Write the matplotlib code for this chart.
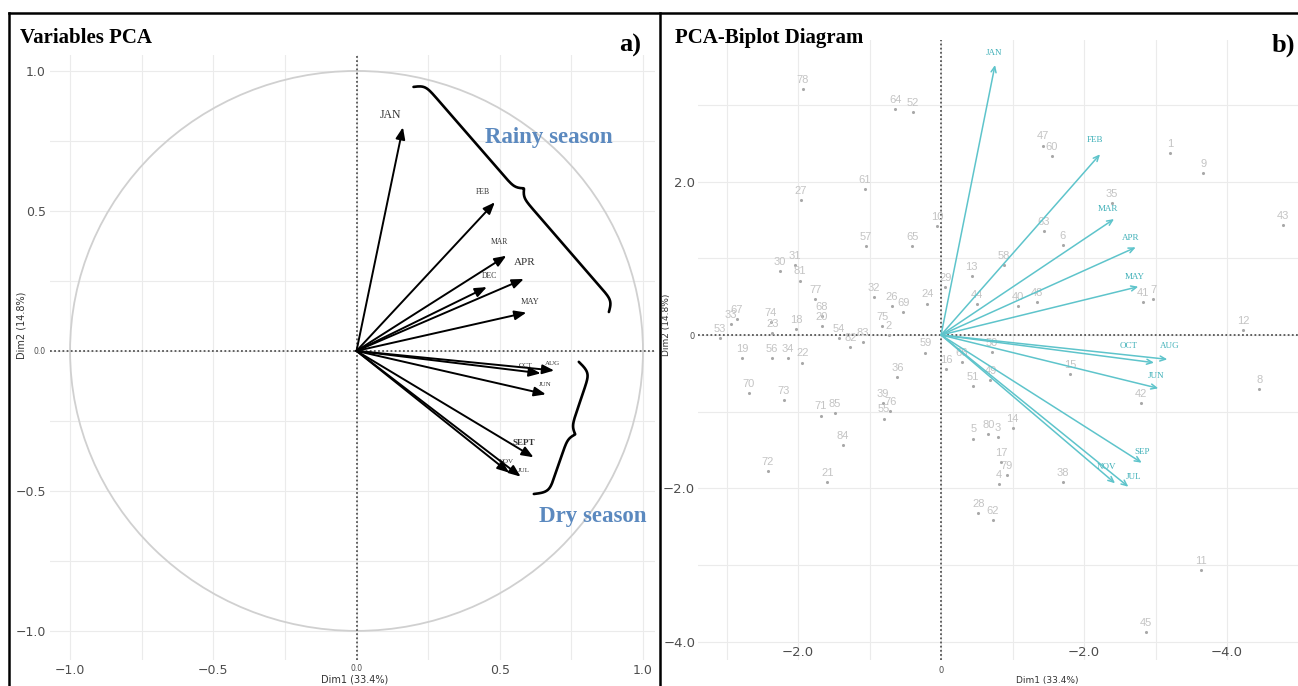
import numpy as np
import matplotlib
matplotlib.use('Agg')
import matplotlib.pyplot as plt
from matplotlib import font_manager
from matplotlib.lines import Line2D
from matplotlib.patches import Circle

# ---- data ----
# a) variables PCA: loadings of the monthly variables
months_a = ['JAN', 'FEB', 'MAR', 'APR', 'DEC', 'MAY', 'OCT', 'AUG', 'JUN', 'SEPT', 'NOV', 'JUL']
dim1_a = [0.162, 0.483, 0.523, 0.584, 0.455, 0.593, 0.643, 0.690, 0.661, 0.618, 0.533, 0.573]
dim2_a = [0.799, 0.531, 0.340, 0.257, 0.228, 0.137, -0.080, -0.070, -0.155, -0.380, -0.435, -0.449]

# b) biplot: variable arrows
months_b = ['JAN', 'FEB', 'MAR', 'APR', 'MAY', 'OCT', 'AUG', 'JUN', 'SEP', 'NOV', 'JUL']
dim1_b = [0.755, 2.224, 2.42, 2.723, 2.759, 2.979, 3.165, 3.039, 2.807, 2.434, 2.62]
dim2_b = [3.52, 2.356, 1.512, 1.143, 0.630, -0.361, -0.317, -0.695, -1.665, -1.933, -1.978]

# b) biplot: individuals
obs_id = ['78', '64', '52', '61', '27', '10', '57', '65', '30', '31', '81', '13', '29', '77',
          '32', '26', '69', '24', '68', '20', '33', '67', '53', '74', '23', '18', '54', '82',
          '83', '75', '2', '19', '56', '34', '22', '70', '73', '71', '85', '84', '72', '21',
          '59', '36', '39', '76', '55', '16', '66', '51', '50', '49', '15', '5', '80', '3',
          '14', '17', '79', '4', '38', '28', '62', '44', '40', '48', '58', '6', '63', '47',
          '60', '1', '9', '35', '43', '41', '7', '12', '8', '42', '11', '45']
obs_dim1 = [-1.93, -0.64, -0.39, -1.07, -1.96, -0.05, -1.05, -0.40, -2.25, -2.04, -1.97, 0.43,
            0.06, -1.76, -0.94, -0.69, -0.53, -0.19, -1.67, -1.67, -2.94, -2.86, -3.09, -2.38,
            -2.36, -2.03, -1.43, -1.27, -1.09, -0.82, -0.73, -2.78, -2.37, -2.14, -1.94, -2.69,
            -2.20, -1.68, -1.49, -1.37, -2.42, -1.59, -0.22, -0.61, -0.81, -0.71, -0.80, 0.07,
            0.29, 0.45, 0.71, 0.69, 1.81, 0.45, 0.66, 0.79, 1.00, 0.84, 0.92, 0.81, 1.70, 0.52,
            0.72, 0.50, 1.07, 1.34, 0.88, 1.70, 1.44, 1.43, 1.55, 3.20, 3.67, 2.39, 4.78, 2.82,
            2.97, 4.23, 4.45, 2.79, 3.64, 2.86]
obs_dim2 = [3.21, 2.94, 2.91, 1.90, 1.76, 1.42, 1.16, 1.16, 0.83, 0.91, 0.71, 0.77, 0.62, 0.47,
            0.49, 0.38, 0.30, 0.41, 0.25, 0.12, 0.14, 0.21, -0.04, 0.17, 0.03, 0.08, -0.04,
            -0.16, -0.09, 0.12, 0.00, -0.30, -0.30, -0.30, -0.36, -0.76, -0.85, -1.05, -1.02,
            -1.43, -1.77, -1.92, -0.23, -0.55, -0.89, -0.99, -1.09, -0.44, -0.35, -0.67, -0.22,
            -0.59, -0.51, -1.35, -1.29, -1.33, -1.21, -1.66, -1.83, -1.94, -1.92, -2.32, -2.41,
            0.40, 0.38, 0.43, 0.91, 1.17, 1.36, 2.47, 2.33, 2.37, 2.11, 1.72, 1.43, 0.43, 0.47,
            0.06, -0.70, -0.89, -3.06, -3.87]

# label placement (offset points from the arrow tip) and sizes
off_a = [(-8.6, 8.6), (-8.6, 7.2), (-5, 10), (0.7, 12), (1.5, 8), (2.5, 7.5),
         (-10.8, 5.7), (-1.5, 5), (-0.7, 7.2), (-6.7, 10.5), (-2, 8), (2, 4.3)]
size_a = [8.5, 5.5, 5.5, 8, 5.5, 6, 5, 5, 5, 6.5, 5, 5]
off_b = [(-0.7, 8.6), (-3.6, 10), (-4.3, 7.2), (-3.6, 7), (-2.2, 6.7), (-18, 12),
         (1.5, 9.5), (-1.5, 8.8), (0, 8), (-6, 12), (4, 7)]

W, H = 1298, 686
SERIF = 'Liberation Serif'
names = {f.name for f in font_manager.fontManager.ttflist}
NUMFONT = 'Liberation Sans Narrow' if 'Liberation Sans Narrow' in names else 'Liberation Sans'
GRID = '#ebebeb'
TICK = '#4d4d4d'
CYAN = '#5ec4cb'
BLUE = '#5b89bf'


def fx(px):
    return px / W


def fy(py):
    return 1 - py / H


def draw_brace(ax, p1, p2, curl, tip, lw=1.9):
    # curly brace between two data points, bulging to the left of p1->p2
    a = ax.transData.transform(p1)
    b = ax.transData.transform(p2)
    d = b - a
    L = np.hypot(*d)
    u = d / L
    n = np.array([-u[1], u[0]])
    s = np.linspace(0, L, 500)
    h = np.minimum(s, L - s)
    k = 0.3
    g = curl * (2 / (1 + np.exp(-k * h)) - 1) + tip * 2 / (1 + np.exp(-k * (h - L / 2)))
    pts = a + np.outer(s, u) + np.outer(g, n)
    xy = ax.transData.inverted().transform(pts)
    ax.plot(xy[:, 0], xy[:, 1], color='black', lw=lw, solid_capstyle='round', clip_on=False)


def dotted_axes(ax):
    ax.axhline(0, color='#555555', lw=1.3, ls=(0, (1, 1.3)), zorder=1)
    ax.axvline(0, color='#555555', lw=1.3, ls=(0, (1, 1.3)), zorder=1)


fig = plt.figure(figsize=(W / 100, H / 100), dpi=100)

# ================= a) Variables PCA =================
ax1 = fig.add_axes([fx(50), fy(660), fx(655) - fx(50), fy(55) - fy(660)])
ax1.set_xlim(-1.07, 1.042)
ax1.set_ylim(-1.104, 1.057)
for v in np.arange(-1, 1.01, 0.25):
    ax1.axvline(v, color=GRID, lw=0.8, zorder=0)
    ax1.axhline(v, color=GRID, lw=0.8, zorder=0)
ax1.add_patch(Circle((0, 0), 1, fill=False, ec='#d0d0d0', lw=1.3, zorder=1))
dotted_axes(ax1)

for m, x, y, o, fs in zip(months_a, dim1_a, dim2_a, off_a, size_a):
    ax1.annotate('', xy=(x, y), xytext=(0, 0),
                 arrowprops=dict(arrowstyle='-|>,head_length=0.7,head_width=0.28',
                                 color='black', lw=1.4, shrinkA=0, shrinkB=0), zorder=3)
    ax1.annotate(m, xy=(x, y), xytext=o, textcoords='offset points', ha='center', va='center',
                 fontsize=fs, family=SERIF, color='#333333',
                 fontweight='bold' if m == 'SEPT' else 'normal')

draw_brace(ax1, (0.199, 0.943), (0.881, 0.139), curl=10, tip=7)
draw_brace(ax1, (0.776, -0.039), (0.619, -0.511), curl=14, tip=6)
ax1.text(0.671, 0.761, 'Rainy season', ha='center', va='center', fontsize=16.5,
         family=SERIF, fontweight='bold', color=BLUE)
ax1.text(0.825, -0.593, 'Dry season', ha='center', va='center', fontsize=16.5,
         family=SERIF, fontweight='bold', color=BLUE)

ticks_a = [-1, -0.5, 0, 0.5, 1]
labels_a = ['\u22121.0', '\u22120.5', '0.0', '0.5', '1.0']
ax1.set_xticks(ticks_a, labels_a)
ax1.set_yticks(ticks_a, labels_a)
ax1.tick_params(length=0, labelsize=9, labelcolor=TICK, pad=3)
for lab in ax1.get_xticklabels() + ax1.get_yticklabels():
    if lab.get_text() == '0.0':
        lab.set_fontsize(5.5)
for sp in ax1.spines.values():
    sp.set_visible(False)

# ================= b) PCA-Biplot =================
ax2 = fig.add_axes([fx(698), fy(660), 1 - fx(698), fy(40) - fy(660)])
ax2.set_xlim(-3.40, 4.993)
ax2.set_ylim(-4.237, 3.846)
for v in range(-3, 6):
    ax2.axvline(v, color=GRID, lw=0.8, zorder=0)
for v in range(-4, 4):
    ax2.axhline(v, color=GRID, lw=0.8, zorder=0)
dotted_axes(ax2)

ax2.scatter(obs_dim1, obs_dim2, s=5, color='#a8a8a8', zorder=2, linewidths=0)
for t, x, y in zip(obs_id, obs_dim1, obs_dim2):
    ax2.annotate(t, xy=(x, y), xytext=(0, 3), textcoords='offset points', ha='center',
                 va='bottom', fontsize=8, family=NUMFONT, color='#c4c4c4', zorder=2)

for m, x, y, o in zip(months_b, dim1_b, dim2_b, off_b):
    ax2.annotate('', xy=(x, y), xytext=(0, 0),
                 arrowprops=dict(arrowstyle='->,head_length=0.4,head_width=0.18',
                                 color=CYAN, lw=1.1, shrinkA=0, shrinkB=0), zorder=3)
    ax2.annotate(m, xy=(x, y), xytext=o, textcoords='offset points', ha='center', va='center',
                 fontsize=6.5, family=SERIF, color='#3fb0b8')

ax2.set_yticks([2, 0, -2, -4], ['2.0', '0', '\u22122.0', '\u22124.0'])
ax2.set_xticks([-2, 2, 4], ['\u22122.0', '\u22122.0', '\u22124.0'])
ax2.set_xticks([0], ['0'], minor=True)
ax2.tick_params(axis='both', which='both', length=0, labelcolor=TICK)
ax2.tick_params(axis='y', labelsize=9.5, pad=2)
ax2.tick_params(axis='x', which='major', labelsize=9.5, pad=-10)
ax2.tick_params(axis='x', which='minor', labelsize=6, pad=4)
for lab in ax2.get_yticklabels():
    if lab.get_text() == '0':
        lab.set_fontsize(6)
for sp in ax2.spines.values():
    sp.set_visible(False)

# ================= titles, axis names, frame =================
fig.text(fx(20), fy(38), 'Variables PCA', fontsize=15, family=SERIF, fontweight='bold', va='center')
fig.text(fx(630), fy(45), 'a)', fontsize=19, family=SERIF, fontweight='bold', ha='center', va='center')
fig.text(fx(675), fy(38), 'PCA-Biplot Diagram', fontsize=15, family=SERIF, fontweight='bold', va='center')
fig.text(fx(1272), fy(45), 'b)', fontsize=19, family=SERIF, fontweight='bold', ha='left', va='center')

fig.text(fx(355), fy(680), 'Dim1 (33.4%)', fontsize=7, color='#333333', ha='center', va='center')
fig.text(fx(22), fy(325), 'Dim2 (14.8%)', fontsize=7, color='#333333', ha='center', va='center', rotation=90)
fig.text(fx(1047), fy(681), 'Dim1 (33.4%)', fontsize=6.5, color='#333333', ha='center', va='center')
fig.text(fx(667), fy(325), 'Dim2 (14.8%)', fontsize=6.5, color='#333333', ha='center', va='center', rotation=90)

for xs, ys in [([9, 1298], [13, 13]), ([9, 9], [13, 686]), ([660, 660], [13, 686])]:
    fig.add_artist(Line2D([fx(v) for v in xs], [fy(v) for v in ys], transform=fig.transFigure,
                          color='black', lw=1.8))

fig.savefig('out.png', dpi=100)
